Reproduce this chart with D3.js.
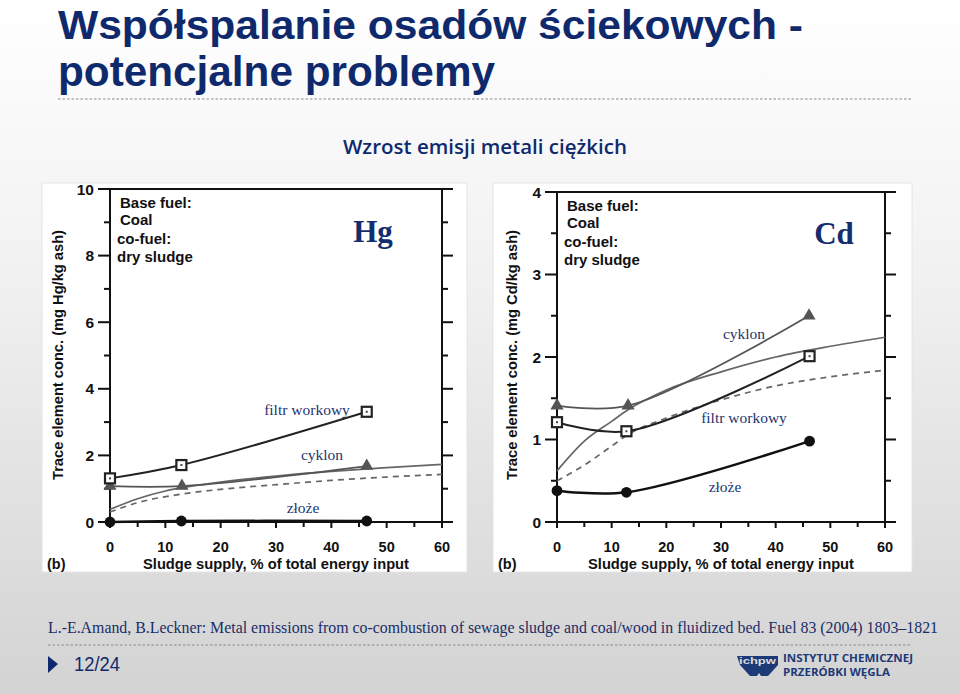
<!DOCTYPE html>
<html><head><meta charset="utf-8">
<script src="https://cdn.jsdelivr.net/npm/d3@7"></script>
<style>html,body{margin:0;padding:0;}svg{display:block;}</style>
</head><body>
<svg id="c" width="960" height="694"></svg>
<script>
// ---------- DATA ----------
const xTicks = [0, 10, 20, 30, 40, 50, 60];
const hgYTicks = [0, 2, 4, 6, 8, 10];
const cdYTicks = [0, 1, 2, 3, 4];

// Hg panel
const hgBag   = [[0, 1.31], [12.9, 1.71], [46.4, 3.31]];       // filtr workowy (squares)
const hgCyc   = [[0, 1.08], [13, 1.08], [46.4, 1.68]];         // cyklon (triangles)
const hgBed   = [[0, 0.0], [12.9, 0.03], [46.4, 0.03]];        // złoże (circles)
const hgFit   = [[0, 0.38], [5, 0.7], [10, 0.93], [13, 1.03], [20, 1.2], [30, 1.38], [40, 1.52], [50, 1.63], [60, 1.73]];
const hgFitD  = [[0, 0.3], [5, 0.58], [13, 0.84], [20, 0.98], [30, 1.12], [40, 1.25], [50, 1.35], [60, 1.43]];

// Cd panel
const cdBag   = [[0, 1.21], [12.7, 1.1], [46.2, 2.01]];
const cdCyc   = [[0, 1.41], [13, 1.41], [46.1, 2.5]];
const cdBed   = [[0, 0.38], [12.7, 0.36], [46.2, 0.98]];
const cdFit   = [[0, 0.62], [5, 0.98], [10, 1.22], [13, 1.36], [20, 1.6], [30, 1.82], [40, 2.0], [50, 2.13], [60, 2.24]];
const cdFitD  = [[0, 0.5], [5, 0.69], [10, 0.92], [13, 1.06], [20, 1.26], [30, 1.48], [40, 1.65], [50, 1.76], [60, 1.84]];

const labels = {bag: "filtr workowy", cyc: "cyklon", bed: "złoże"};

// ---------- PAGE ----------
const svg = d3.select("#c");
const defs = svg.append("defs");
const g = defs.append("linearGradient").attr("id","bg").attr("x1",0).attr("y1",0).attr("x2",0).attr("y2",1);
g.append("stop").attr("offset","0%").attr("stop-color","#ffffff");
g.append("stop").attr("offset","40%").attr("stop-color","#f1f1f1");
g.append("stop").attr("offset","100%").attr("stop-color","#d3d3d3");
svg.append("rect").attr("width",960).attr("height",694).attr("fill","url(#bg)");

const navy = "#0f2a6c";
svg.append("text").attr("x",58).attr("y",39).attr("fill",navy)
  .attr("font-family","Liberation Sans, Arial, sans-serif").attr("font-weight","bold").attr("font-size",41)
  .attr("textLength",745).attr("lengthAdjust","spacingAndGlyphs").text("Współspalanie osadów ściekowych -");
svg.append("text").attr("x",58).attr("y",86).attr("fill",navy)
  .attr("font-family","Liberation Sans, Arial, sans-serif").attr("font-weight","bold").attr("font-size",42)
  .attr("textLength",437).attr("lengthAdjust","spacingAndGlyphs").text("potencjalne problemy");
svg.append("line").attr("x1",58).attr("x2",912).attr("y1",99).attr("y2",99)
  .attr("stroke","#8a8a8a").attr("stroke-width",1.2).attr("stroke-dasharray","2.5,2");

svg.append("text").attr("x",343).attr("y",154).attr("fill",navy)
  .attr("font-family","Open Sans, sans-serif").attr("font-weight",600).attr("font-size",20)
  .attr("textLength",284).attr("lengthAdjust","spacingAndGlyphs").text("Wzrost emisji metali ciężkich");

// ---------- PANELS ----------
function panel(o) {
  const p = svg.append("g");
  p.append("rect").attr("x",o.img[0]).attr("y",o.img[1]).attr("width",o.img[2]).attr("height",o.img[3])
    .attr("fill","#ffffff").attr("stroke","#e4e4e4");
  const x = d3.scaleLinear().domain([0,60]).range([o.x0, o.x1]);
  const y = d3.scaleLinear().domain([0,o.ymax]).range([o.y0, o.y1]);
  const ax = p.append("g").attr("stroke","#111").attr("stroke-width",2);
  // frame
  ax.append("line").attr("x1",x(0)).attr("x2",x(0)).attr("y1",y(0)).attr("y2",y(o.ymax));
  ax.append("line").attr("x1",x(60)).attr("x2",x(60)).attr("y1",y(0)).attr("y2",y(o.ymax));
  ax.append("line").attr("x1",x(0)-12).attr("x2",x(60)+11).attr("y1",y(o.ymax)).attr("y2",y(o.ymax));
  ax.append("line").attr("x1",x(0)-12).attr("x2",x(60)+11).attr("y1",y(0)).attr("y2",y(0));
  // y ticks
  const minor = d3.range(0, o.ymax + 1e-9, o.ystep/2);
  minor.forEach(v => {
    const major = o.yTicks.includes(+v.toFixed(3));
    ax.append("line").attr("x1",x(0)-(major?12:6)).attr("x2",x(0)).attr("y1",y(v)).attr("y2",y(v));
    ax.append("line").attr("x1",x(60)).attr("x2",x(60)+(major?11:6)).attr("y1",y(v)).attr("y2",y(v));
  });
  // x ticks
  d3.range(0, 61, 5).forEach(v => {
    ax.append("line").attr("x1",x(v)).attr("x2",x(v)).attr("y1",y(0)).attr("y2",y(0)+(v%10===0?6:5));
  });
  const tf = "Liberation Sans, Arial, sans-serif";
  p.selectAll(".yt").data(o.yTicks).join("text").attr("x",x(0)-16).attr("y",d=>y(d)+5.5)
    .attr("text-anchor","end").attr("font-family",tf).attr("font-weight","bold").attr("font-size",15.5).attr("fill","#111").text(d=>d);
  p.selectAll(".xt").data(xTicks).join("text").attr("x",d=>x(d)).attr("y",y(0)+30)
    .attr("text-anchor","middle").attr("font-family",tf).attr("font-weight","bold").attr("font-size",14.5).attr("fill","#111").text(d=>d);
  p.append("text").attr("x",(x(0)+x(60))/2+o.xlDx).attr("y",y(0)+47).attr("text-anchor","middle")
    .attr("font-family",tf).attr("font-weight","bold").attr("font-size",14.5).attr("fill","#111")
    .attr("textLength",266).attr("lengthAdjust","spacingAndGlyphs")
    .text("Sludge supply, % of total energy input");
  p.append("text").attr("x",o.img[0]+5).attr("y",y(0)+47).attr("font-family",tf).attr("font-weight","bold")
    .attr("font-size",14.5).attr("fill","#111").text("(b)");
  p.append("text").attr("transform",`translate(${o.ylx},${o.yly}) rotate(-90)`).attr("text-anchor","middle")
    .attr("font-family",tf).attr("font-weight","bold").attr("font-size",15).attr("fill","#111")
    .attr("textLength",250).attr("lengthAdjust","spacingAndGlyphs").text(o.ylabel);
  // base fuel text
  [["Base fuel:",3,0],["Coal",3,17],["co-fuel:",0,36],["dry sludge",0,54]].forEach(t=>{
    p.append("text").attr("x",x(0)+o.bfx+t[1]).attr("y",o.bfy+t[2]).attr("font-family",tf).attr("font-weight","bold")
      .attr("font-size",15).attr("fill","#111").text(t[0]);
  });
  p.append("text").attr("x",o.elx).attr("y",o.ely).attr("text-anchor","middle").attr("font-family","Liberation Serif, Times New Roman, serif")
    .attr("font-weight","bold").attr("font-size",31).attr("fill","#132d6e").text(o.el);

  const line = d3.line().x(d=>x(d[0])).y(d=>y(d[1]));
  // fit curves
  p.append("path").datum(o.fit).attr("d",line.curve(d3.curveMonotoneX)).attr("fill","none").attr("stroke","#666").attr("stroke-width",1.7);
  p.append("path").datum(o.fitD).attr("d",line.curve(d3.curveMonotoneX)).attr("fill","none").attr("stroke","#666").attr("stroke-width",1.7).attr("stroke-dasharray","6,5");
  // data curves
  const cl = d3.line().x(d=>x(d[0])).y(d=>y(d[1])).curve(d3.curveCatmullRom.alpha(0.5));
  p.append("path").datum(o.cyc).attr("d",cl).attr("fill","none").attr("stroke","#555").attr("stroke-width",1.8);
  p.append("path").datum(o.bag).attr("d",cl).attr("fill","none").attr("stroke","#222").attr("stroke-width",2);
  p.append("path").datum(o.bed).attr("d",cl).attr("fill","none").attr("stroke","#111").attr("stroke-width",2.5);
  // markers
  p.selectAll(".tri").data(o.cyc).join("path").attr("transform",d=>`translate(${x(d[0])},${y(d[1])})`)
    .attr("d",d3.symbol(d3.symbolTriangle,75)).attr("fill","#555");
  p.selectAll(".sq").data(o.bag).join("rect").attr("x",d=>x(d[0])-5).attr("y",d=>y(d[1])-5).attr("width",10).attr("height",10)
    .attr("fill","#fff").attr("stroke","#222").attr("stroke-width",2.2);
  p.selectAll(".sqd").data(o.bag).join("rect").attr("x",d=>x(d[0])-1).attr("y",d=>y(d[1])-1).attr("width",2).attr("height",2).attr("fill","#444");
  p.selectAll(".ci").data(o.bed).join("circle").attr("cx",d=>x(d[0])).attr("cy",d=>y(d[1])).attr("r",5.4).attr("fill","#111");
  // series labels
  const sf = "Liberation Serif, Times New Roman, serif";
  o.lab.forEach(l=>{
    p.append("text").attr("x",l[1]).attr("y",l[2]).attr("text-anchor","middle").attr("font-family",sf)
      .attr("font-size",15.5).attr("fill","#1d3470").text(labels[l[0]]);
  });
}

panel({img:[42,183,425,389], x0:110, x1:442, y0:522, y1:189, ymax:10, ystep:2, yTicks:hgYTicks,
  ylabel:"Trace element conc. (mg Hg/kg ash)", ylx:63, yly:355, xlDx:0, bfx:7, bfy:208, el:"Hg", elx:373, ely:242,
  fit:hgFit, fitD:hgFitD, bag:hgBag, cyc:hgCyc, bed:hgBed,
  lab:[["bag",307,415],["cyc",322,460],["bed",303,513]]});

panel({img:[493,183,419,389], x0:557, x1:885, y0:522, y1:192, ymax:4, ystep:1, yTicks:cdYTicks,
  ylabel:"Trace element conc. (mg Cd/kg ash)", ylx:517, yly:355, xlDx:0, bfx:7, bfy:211, el:"Cd", elx:834, ely:244,
  fit:cdFit, fitD:cdFitD, bag:cdBag, cyc:cdCyc, bed:cdBed,
  lab:[["cyc",744,339],["bag",744,423],["bed",725,492]]});

// ---------- FOOTER ----------
svg.append("text").attr("x",48).attr("y",633).attr("fill","#1a2d66")
  .attr("font-family","Liberation Serif, Times New Roman, serif").attr("font-size",16)
  .attr("textLength",890).attr("lengthAdjust","spacingAndGlyphs")
  .text("L.-E.Amand, B.Leckner: Metal emissions from co-combustion of sewage sludge and coal/wood in fluidized bed. Fuel 83 (2004) 1803–1821");
svg.append("line").attr("x1",48).attr("x2",912).attr("y1",645).attr("y2",645)
  .attr("stroke","#8a8a8a").attr("stroke-width",1.2).attr("stroke-dasharray","2.5,2");
svg.append("path").attr("d","M48,656 L58,664 L48,673 Z").attr("fill",navy);
svg.append("text").attr("x",74).attr("y",671).attr("fill",navy).attr("font-family","Liberation Sans, Arial, sans-serif")
  .attr("font-size",20).attr("textLength",46).attr("lengthAdjust","spacingAndGlyphs").text("12/24");
// logo
const lg = svg.append("g").attr("fill","#1c3a78");
lg.append("path").attr("d","M737,656 h41 v9 l-10,11 h-7 l-2,-3 l-2,3 h-7 l-10,-11 Z");
lg.append("text").attr("x",739).attr("y",664).attr("fill","#dcdcdc").attr("font-family","Liberation Sans, Arial, sans-serif")
  .attr("font-weight","bold").attr("font-size",9).attr("textLength",37).attr("lengthAdjust","spacingAndGlyphs").text("ichpw");
lg.append("text").attr("x",783).attr("y",662).attr("font-family","Open Sans, sans-serif").attr("font-weight","bold")
  .attr("font-size",10.5).attr("textLength",130).attr("lengthAdjust","spacingAndGlyphs").text("INSTYTUT CHEMICZNEJ");
lg.append("text").attr("x",783).attr("y",675.5).attr("font-family","Open Sans, sans-serif").attr("font-weight","bold")
  .attr("font-size",10.5).attr("textLength",107).attr("lengthAdjust","spacingAndGlyphs").text("PRZERÓBKI WĘGLA");
</script>
</body></html>
